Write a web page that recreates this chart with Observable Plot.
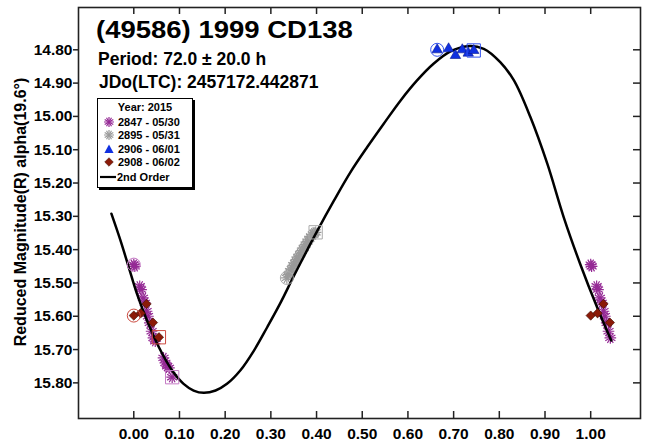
<!DOCTYPE html>
<html><head><meta charset="utf-8">
<script src="https://cdn.jsdelivr.net/npm/d3@7"></script>
<script src="https://cdn.jsdelivr.net/npm/@observablehq/plot@0.6"></script>
<style>
body{margin:0;background:#fff;}
#wrap{position:relative;width:645px;height:442px;font-family:"Liberation Sans",Arial,sans-serif;font-weight:bold;color:#000;overflow:hidden;}
.t{position:absolute;white-space:nowrap;line-height:1;}
#legend{position:absolute;left:97px;top:98px;width:94px;height:88px;border:1px solid #000;box-shadow:2px 2px 0 #000;background:#fff;font-size:11px;}
#legend .r{position:absolute;white-space:nowrap;line-height:1;}
#legend svg{position:absolute;}
</style></head><body><div id="wrap"></div>
<script>
// ---- data ----
const xTicks = [0, 0.1, 0.2, 0.3, 0.4, 0.5, 0.6, 0.7, 0.8, 0.9, 1.0];
const yTicks = [14.8, 14.9, 15.0, 15.1, 15.2, 15.3, 15.4, 15.5, 15.6, 15.7, 15.8];

const curvePhase = [-0.049,-0.029,-0.011,0.007,0.029,0.055,0.084,0.109,0.131,0.153,0.179,0.204,0.233,0.263,0.292,0.321,0.350,0.380,0.401,0.438,0.474,0.511,0.547,0.584,0.620,0.656,0.693,0.730,0.766,0.802,0.832,0.868,0.905,0.941,0.977,1.014,1.045];
const curveMag   = [15.292,15.373,15.453,15.533,15.613,15.693,15.763,15.803,15.823,15.830,15.823,15.803,15.763,15.703,15.633,15.560,15.480,15.400,15.345,15.253,15.168,15.092,15.022,14.952,14.892,14.842,14.805,14.789,14.797,14.837,14.892,15.002,15.142,15.303,15.443,15.573,15.673];

const s2847Phase = [0.000,0.002,0.013,0.016,0.020,0.024,0.028,0.031,0.035,0.039,0.043,0.047,0.065,0.069,0.073,0.077,0.084];
const s2847Mag   = [15.445,15.450,15.510,15.520,15.545,15.560,15.585,15.600,15.620,15.645,15.665,15.675,15.725,15.740,15.750,15.755,15.783];

const s2895Phase = [0.335,0.339,0.342,0.346,0.349,0.353,0.356,0.360,0.364,0.368,0.372,0.376,0.380,0.384,0.388,0.392,0.395,0.398];
const s2895Mag   = [15.485,15.475,15.465,15.458,15.447,15.440,15.430,15.422,15.413,15.403,15.395,15.385,15.376,15.368,15.360,15.355,15.350,15.348];

const s2906Phase = [0.664,0.689,0.704,0.719,0.732,0.744];
const s2906Mag   = [14.800,14.797,14.817,14.800,14.810,14.802];

const s2908Phase = [0.000,0.015,0.028,0.042,0.055];
const s2908Mag   = [15.598,15.591,15.563,15.619,15.663];

const wrapLimit = 0.045; // points with phase below this are repeated at phase+1

// ---- build tables ----
function base(ph, mg) { return ph.map((p, i) => ({x: p, y: mg[i]})); }
function withWrap(ph, mg) {
  const b = base(ph, mg);
  return b.concat(b.filter(d => d.x < wrapLimit).map(d => ({x: d.x + 1, y: d.y})));
}
const curve = base(curvePhase, curveMag);
const p2847 = withWrap(s2847Phase, s2847Mag);
const p2895 = withWrap(s2895Phase, s2895Mag);
const p2906 = withWrap(s2906Phase, s2906Mag);
const p2908 = withWrap(s2908Phase, s2908Mag);
const sessions = [[s2847Phase, s2847Mag, "#c57ac5"], [s2895Phase, s2895Mag, "#aaaaaa"], [s2906Phase, s2906Mag, "#3050f0"], [s2908Phase, s2908Mag, "#cc4a40"]];
const firsts = sessions.map(([ph, mg, c]) => ({x: ph[0], y: mg[0], c}));
const lasts = sessions.map(([ph, mg, c]) => ({x: ph[ph.length - 1], y: mg[mg.length - 1], c}));

const W = 645, H = 442, mL = 78, mR = 5, mT = 7, mB = 24;
const fW = W - mL - mR, fH = H - mT - mB;
const purple = "#952a95", gray = "#9a9a9a", blue = "#1030e0", red = "#8b1a08";

const chart = Plot.plot({
  width: W, height: H,
  marginLeft: mL, marginRight: mR, marginTop: mT, marginBottom: mB,
  style: {fontFamily: "Liberation Sans, Arial, sans-serif", fontWeight: "bold", fontSize: "15.5px", background: "white", color: "black"},
  x: {domain: [-0.121, 1.109], ticks: xTicks, tickFormat: d3.format(".2f"), tickSize: 0, tickPadding: 9, label: null},
  y: {domain: [14.673, 15.907], reverse: true, ticks: yTicks, tickFormat: d3.format(".2f"), tickSize: 0, tickPadding: 6, label: null},
  marks: [
    Plot.tickX(xTicks, {x: d => d, insetTop: fH - 7, stroke: "#222", strokeWidth: 1.5}),
    Plot.tickX(xTicks, {x: d => d, insetBottom: fH - 7, stroke: "#222", strokeWidth: 1.5}),
    Plot.tickY(yTicks, {y: d => d, insetLeft: fW - 7, stroke: "#222", strokeWidth: 1.5}),
    Plot.tickY(yTicks, {y: d => d, insetLeft: -5, insetRight: fW, stroke: "#222", strokeWidth: 1.5}),
    Plot.dot(p2847, {x: "x", y: "y", symbol: "asterisk", r: 5.5, stroke: purple, strokeWidth: 1.2}),
    Plot.dot(p2847, {x: "x", y: "y", symbol: "asterisk", r: 5.5, rotate: 90, stroke: purple, strokeWidth: 1.2}),
    Plot.dot(p2895, {x: "x", y: "y", symbol: "asterisk", r: 5.5, stroke: gray, strokeWidth: 1.2}),
    Plot.dot(p2895, {x: "x", y: "y", symbol: "asterisk", r: 5.5, rotate: 90, stroke: gray, strokeWidth: 1.2}),
    Plot.line(curve, {x: "x", y: "y", curve: "catmull-rom", stroke: "black", strokeWidth: 2.5}),
    Plot.dot(p2906, {x: "x", y: "y", symbol: "triangle2", r: 5, fill: blue, stroke: "#0a1a90", strokeWidth: 0.6}),
    Plot.dot(p2908, {x: "x", y: "y", symbol: "diamond2", r: 4.2, fill: red, stroke: "#3a0a00", strokeWidth: 0.6}),
    Plot.dot(firsts, {x: "x", y: "y", symbol: "circle", r: 6.5, fill: "none", stroke: "c", strokeWidth: 1}),
    Plot.dot(lasts, {x: "x", y: "y", symbol: "square", r: 7.5, fill: "none", stroke: "c", strokeWidth: 1}),
    Plot.frame({stroke: "#222", strokeWidth: 1.6})
  ]
});
const wrap = document.getElementById("wrap");
wrap.appendChild(chart);

// ---- texts ----
function addText(txt, left, top, size, extra) {
  const d = document.createElement("div");
  d.className = "t"; d.textContent = txt;
  d.style.left = left + "px"; d.style.top = top + "px"; d.style.fontSize = size + "px";
  if (extra) Object.assign(d.style, extra);
  wrap.appendChild(d); return d;
}
addText("(49586) 1999 CD138", 96, 18.5, 23.5, {transform: "scaleX(1.17)", transformOrigin: "0 0"});
addText("Period: 72.0 ± 20.0 h", 98, 51, 17.5);
addText("JDo(LTC): 2457172.442871", 99, 73.7, 17.5);
addText("Reduced Magnitude(R) alpha(19.6°)", 21, 212, 16, {transform: "translate(-50%,-50%) rotate(-90deg)", transformOrigin: "50% 50%"});

// ---- legend ----
const leg = document.createElement("div"); leg.id = "legend"; wrap.appendChild(leg);
function legRow(txt, left, cy, center) {
  const d = document.createElement("div"); d.className = "r"; d.textContent = txt;
  d.style.top = (cy - 5.4) + "px";
  if (center) { d.style.left = "0"; d.style.width = "94px"; d.style.textAlign = "center"; }
  else d.style.left = left + "px";
  leg.appendChild(d);
}
function legSvg(cx, cy, inner) {
  const s = document.createElementNS("http://www.w3.org/2000/svg", "svg");
  s.setAttribute("width", 16); s.setAttribute("height", 14);
  s.style.left = (cx - 8) + "px"; s.style.top = (cy - 7) + "px";
  s.innerHTML = inner; leg.appendChild(s);
}
const star = c => `<g transform="translate(8,7)" stroke="${c}" stroke-width="1.2"><path d="M0,-5V5M-4.3,-2.5L4.3,2.5M-4.3,2.5L4.3,-2.5"/><path d="M-5,0H5M-2.5,-4.3L2.5,4.3M-2.5,4.3L2.5,-4.3"/></g>`;
legRow("Year: 2015", 0, 8, true);
legSvg(11, 23, star(purple)); legRow("2847 - 05/30", 20, 23);
legSvg(11, 36, star(gray)); legRow("2895 - 05/31", 20, 36);
legSvg(11, 50, `<path transform="translate(8,8)" d="M0,-5.5L4.6,3L-4.6,3Z" fill="${blue}"/>`); legRow("2906 - 06/01", 20, 50);
legSvg(11, 63, `<path transform="translate(8,7)" d="M0,-4.3L4.3,0L0,4.3L-4.3,0Z" fill="${red}" stroke="#3a0a00" stroke-width="0.5"/>`); legRow("2908 - 06/02", 20, 63);
legSvg(10, 78, `<path d="M0,7H16" stroke="#000" stroke-width="2.2"/>`); legRow("2nd Order", 19, 78);
</script>
</body></html>
